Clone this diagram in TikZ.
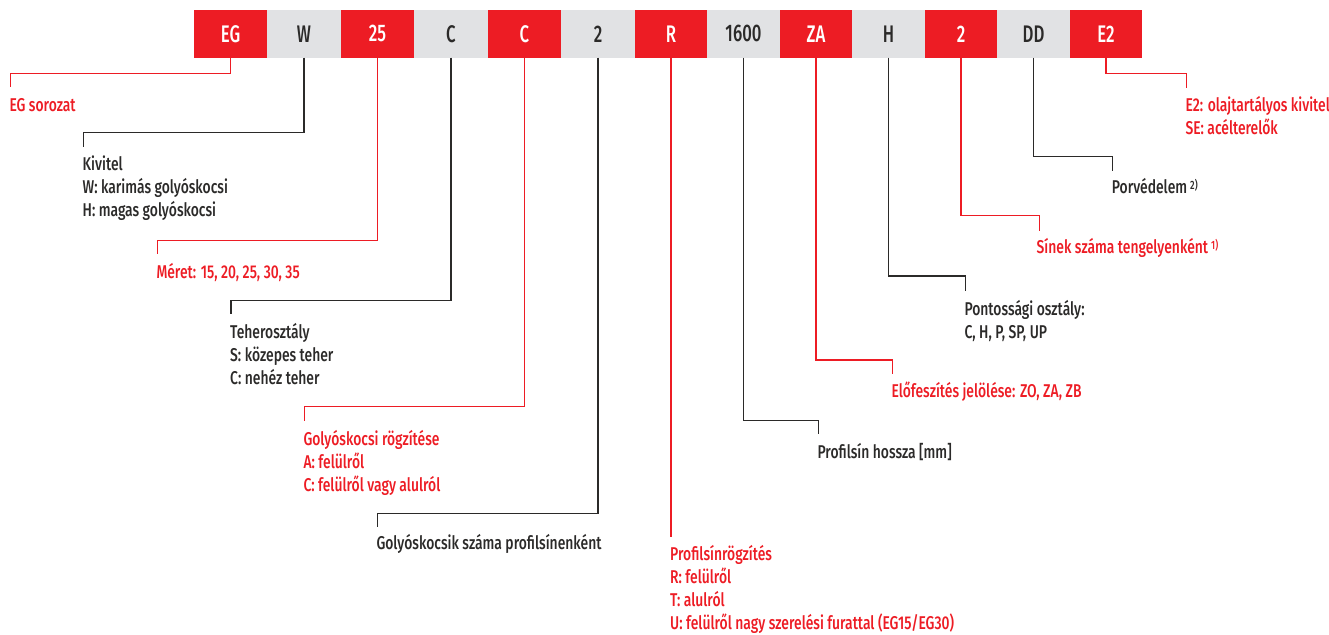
\documentclass[tikz,border=0pt]{standalone}
\usepackage{fontspec}
\setmainfont{Fira Sans}[FakeStretch=0.75, UprightFont=* Medium]
\newfontfamily\boxfont{Fira Sans}[FakeStretch=0.7, UprightFont=* Medium]
\definecolor{hred}{HTML}{ED1C24}
\definecolor{hgrey}{HTML}{E1E2E4}
\definecolor{hdark}{HTML}{2B2A29}
\newcommand{\lbl}[1]{{\fontsize{18.5}{23}\selectfont\begin{tabular}[t]{@{}l@{}}#1\end{tabular}}}
\newcommand{\sups}[1]{\,{\fontsize{12}{12}\selectfont\raisebox{4pt}{#1}}}
\tikzset{
  codebox/.style={rectangle, inner sep=0pt, minimum height=47.5pt, font=\boxfont\fontsize{24}{24}\selectfont},
  redbox/.style={codebox, fill=hred, text=white},
  greybox/.style={codebox, fill=hgrey, text=hdark},
  redline/.style={draw=hred, line width=1.2pt},
  darkline/.style={draw=hdark, line width=1.2pt},
  redlbl/.style={anchor=base west, inner sep=0pt, text=hred},
  darklbl/.style={anchor=base west, inner sep=0pt, text=hdark},
}
\begin{document}
\begin{tikzpicture}[x=1pt,y=-1pt]
\useasboundingbox (0,0) rectangle (1329,634);
% code boxes
\foreach \l/\r/\t/\s [count=\i] in {194/267/EG/redbox, 267/341/W/greybox, 341/414/25/redbox, 414/488/C/greybox, 488/561/C/redbox, 561/635/2/greybox, 635/707/R/redbox, 707/780/1600/greybox, 780/852/ZA/redbox, 852/925/H/greybox, 925/997/2/redbox, 997/1070/DD/greybox, 1070/1142/E2/redbox}
  \node[\s, minimum width={(\r-\l)*1pt}] (b\i) at ({(\l+\r)/2}, 33.8) {\t};

% labels
\node[redlbl] (l1) at (9.3,111) {\lbl{EG sorozat}};
\node[darklbl] (l2) at (82.5,170.7) {\lbl{Kivitel\\W: karimás golyóskocsi\\H: magas golyóskocsi}};
\node[redlbl] (l3) at (156.3,278.3) {\lbl{Méret: 15, 20, 25, 30, 35}};
\node[darklbl] (l4) at (230,338.3) {\lbl{Teherosztály\\S: közepes teher\\C: nehéz teher}};
\node[redlbl] (l5) at (303.3,445) {\lbl{Golyóskocsi rögzítése\\A: felülről\\C: felülről vagy alulról}};
\node[darklbl] (l6) at (376.3,549.3) {\lbl{Golyóskocsik száma profilsínenként}};
\node[redlbl] (l7) at (670,560) {\lbl{Profilsínrögzítés\\R: felülről\\T: alulról\\U: felülről nagy szerelési furattal (EG15/EG30)}};
\node[darklbl] (l8) at (817.3,458.3) {\lbl{Profilsín hossza [mm]}};
\node[redlbl] (l9) at (891.3,397.7) {\lbl{Előfeszítés jelölése: ZO, ZA, ZB}};
\node[darklbl] (l10) at (964.3,315) {\lbl{Pontossági osztály:\\C, H, P, SP, UP}};
\node[redlbl] (l11) at (1036.5,253.3) {\lbl{Sínek száma tengelyenként\sups{1)}}};
\node[darklbl] (l12) at (1111.7,193.3) {\lbl{Porvédelem\sups{2)}}};
\node[redlbl] (l13) at (1185.3,111) {\lbl{E2: olajtartályos kivitel\\SE: acélterelők}};

% connector corners and ends
\coordinate (k1) at (10.3,73.3);    \coordinate (e1) at (10.3,87);
\coordinate (k2) at (83.5,132.7);   \coordinate (e2) at (83.5,147);
\coordinate (k3) at (157.3,240.3);  \coordinate (e3) at (157.3,254);
\coordinate (k4) at (231,300.3);    \coordinate (e4) at (231,314);
\coordinate (k5) at (304.3,406.7);  \coordinate (e5) at (304.3,420.7);
\coordinate (k6) at (377.3,513.3);  \coordinate (e6) at (377.3,527);
\coordinate (e7) at (671,536.7);
\coordinate (k8) at (818.3,420.7);  \coordinate (e8) at (818.3,434.3);
\coordinate (k9) at (892.3,360);    \coordinate (e9) at (892.3,374.3);
\coordinate (k10) at (965.3,276);   \coordinate (e10) at (965.3,290.7);
\coordinate (k11) at (1039.3,215.7); \coordinate (e11) at (1039.3,230.7);
\coordinate (k12) at (1112.7,156.3); \coordinate (e12) at (1112.7,170.7);
\coordinate (k13) at (1186.3,73.3); \coordinate (e13) at (1186.3,87.7);

\draw[redline] (b1.south) |- (k1) -- (e1);
\draw[darkline] (b2.south) |- (k2) -- (e2);
\draw[redline] (b3.south) |- (k3) -- (e3);
\draw[darkline] (b4.south) |- (k4) -- (e4);
\draw[redline] (b5.south) |- (k5) -- (e5);
\draw[darkline] (b6.south) |- (k6) -- (e6);
\draw[redline] (b7.south) -- (b7.south |- e7);
\draw[darkline] (b8.south) |- (k8) -- (e8);
\draw[redline] (b9.south) |- (k9) -- (e9);
\draw[darkline] (b10.south) |- (k10) -- (e10);
\draw[redline] (b11.south) |- (k11) -- (e11);
\draw[darkline] (b12.south) |- (k12) -- (e12);
\draw[redline] (b13.south) |- (k13) -- (e13);
\end{tikzpicture}
\end{document}
